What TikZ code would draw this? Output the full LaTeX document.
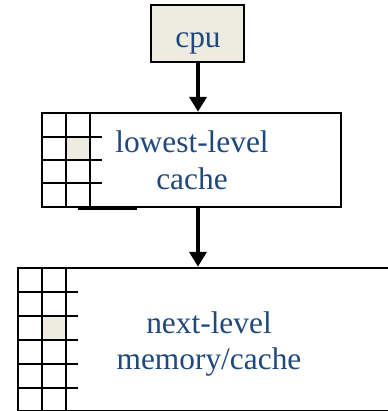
\documentclass[tikz,border=0pt]{standalone}
\usepackage{fontspec}
\setmainfont{Liberation Serif}
\usepackage{xcolor}
\usetikzlibrary{arrows.meta,positioning,calc}

\definecolor{boxfill}{HTML}{EEECE1}
\definecolor{labelblue}{HTML}{1F497D}

\begin{document}
\begin{tikzpicture}[x=1bp,y=-1bp,>={Triangle[length=15bp,width=17bp]},
  box/.style={draw=black,line width=2.5bp,fill=white,inner sep=0pt},
  gridline/.style={black,line width=2.5bp},
  lbl/.style={text=labelblue,font=\fontsize{31.5}{37}\selectfont,align=center,inner sep=0pt}]

\useasboundingbox (0,0) rectangle (388,411);

% boxes
\node[box,fill=boxfill,minimum width=93bp,minimum height=57bp] (cpu) at (197.5,33.5) {};
\node[box,minimum width=299bp,minimum height=94bp] (low) at (191.5,160) {};
\node[box,minimum width=402bp,minimum height=143bp] (next) at (219,339.5) {};

% lowest-level cache grid
\fill[boxfill] (66,137) rectangle (90,160);
\foreach \x in {66,90}
  \draw[gridline] (\x,113) -- (\x,207);
\foreach \y in {137,160,183}
  \draw[gridline] (42,\y) -- (102,\y);
\draw[gridline] (78,208.5) -- (137,208.5);

% next-level grid
\fill[boxfill] (42,316) rectangle (66,340);
\foreach \x in {42,66}
  \draw[gridline] (\x,268) -- (\x,411);
\foreach \y in {292,316,340,364,388}
  \draw[gridline] (18,\y) -- (78,\y);

% labels
\node[lbl,anchor=base] (cputext) at (198,47) {cpu};
\node[lbl] (lowtext) at (192,160.5) {lowest-level\\cache};
\node[lbl] (nexttext) at (209,344) {next-level\\memory/cache};

% arrows
\draw[->,line width=4bp] (cpu.south -| 198,0) -- (low.north -| 198,0);
\draw[->,line width=4bp] (low.south -| 198,0) -- (next.north -| 198,0);

\end{tikzpicture}
\end{document}
